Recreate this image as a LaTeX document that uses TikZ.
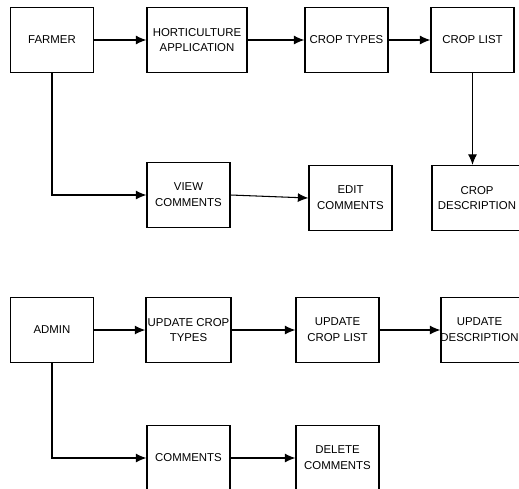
\documentclass[tikz,border=0pt]{standalone}
\usepackage{fontspec}
\setmainfont{Liberation Sans}
\usetikzlibrary{arrows.meta}
\begin{document}
\begin{tikzpicture}[x=0.02cm,y=-0.02cm,
  every node/.style={font=\fontsize{6.5}{9}\selectfont},
  box/.style={draw,line width=0.75pt,rectangle,align=center,minimum width=1.66cm,minimum height=1.3cm,inner sep=1pt},
  wide/.style={box,minimum width=2cm},
  flow/.style={line width=0.6pt,-{Latex[length=2.1mm,width=1.8mm]}}]
\useasboundingbox (0,0) rectangle (519,488);
\clip (0,0) rectangle (519,488);
% farmer side
\node[box] (farmer) at (52,40) {FARMER};
\node[wide] (hort) at (197,40) {HORTICULTURE\\APPLICATION};
\node[box] (types) at (346.5,40) {CROP TYPES};
\node[box] (list) at (472.5,40) {CROP LIST};
\node[box] (view) at (188.5,195) {VIEW\\COMMENTS};
\node[box] (edit) at (350.5,198) {EDIT\\COMMENTS};
\node[box,minimum width=1.8cm] (desc) at (477,198) {CROP\\DESCRIPTION};
\draw[flow] (farmer)--(hort); \draw[flow] (hort)--(types); \draw[flow] (types)--(list);
\draw[flow] (list.south)--(list.south|-desc.north);
\draw[flow] (farmer.south)|-(view.west);
\draw[flow] (view.east)--(edit.west);
% admin side
\node[box] (admin) at (52,330) {ADMIN};
\node[box] (uptypes) at (188.5,330) {UPDATE CROP\\TYPES};
\node[box] (uplist) at (337.5,330) {UPDATE\\CROP LIST};
\node[box,minimum width=1.8cm] (updesc) at (486,330) {};
\node (updesctext) at (479.5,330) [align=center] {UPDATE\\DESCRIPTION};
\node[box] (comm) at (188.5,458) {COMMENTS};
\node[box] (del) at (337.5,458) {DELETE\\COMMENTS};
\draw[flow] (admin)--(uptypes); \draw[flow] (uptypes)--(uplist); \draw[flow] (uplist)--(updesc);
\draw[flow] (admin.south)|-(comm.west);
\draw[flow] (comm)--(del);
\end{tikzpicture}
\end{document}
